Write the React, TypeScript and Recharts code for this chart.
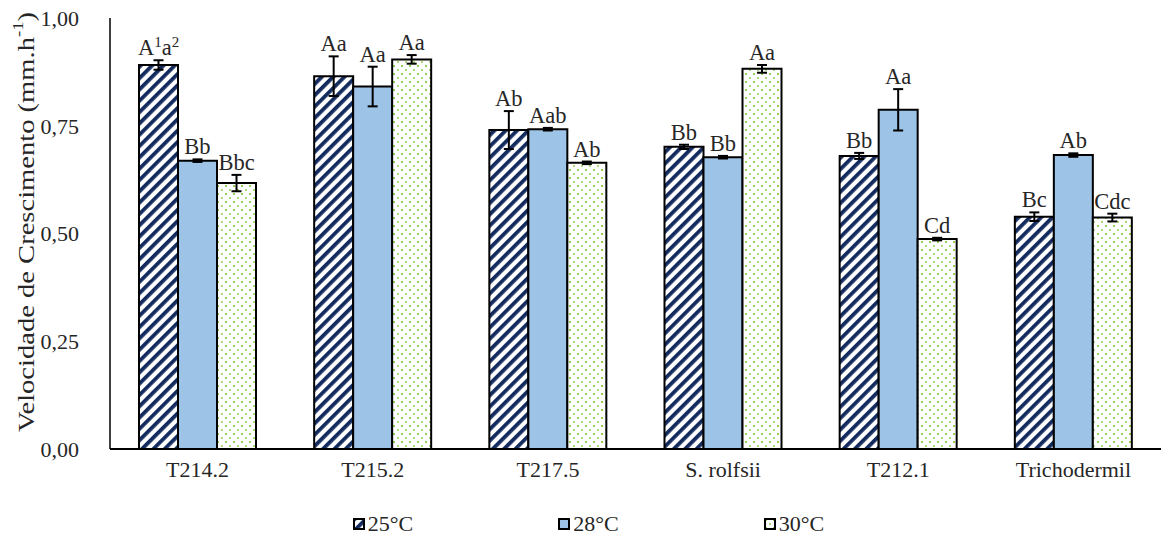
import React from 'react';
import { BarChart, Bar, XAxis, YAxis, ErrorBar, LabelList, Legend } from 'recharts';

const isolados = ['T214.2', 'T215.2', 'T217.5', 'S. rolfsii', 'T212.1', 'Trichodermil'];

// médias e desvios
const v25 = [0.891, 0.865, 0.74, 0.701, 0.68, 0.539];
const e25 = [0.011, 0.046, 0.044, 0.005, 0.007, 0.01];
const v28 = [0.669, 0.841, 0.742, 0.677, 0.787, 0.682];
const e28 = [0.003, 0.046, 0.003, 0.003, 0.048, 0.004];
const v30 = [0.617, 0.904, 0.664, 0.882, 0.487, 0.537];
const e30 = [0.019, 0.01, 0.003, 0.009, 0.003, 0.009];

// letras do teste de médias ("^" = sobrescrito)
const l25 = ['A^1a^2', 'Aa', 'Ab', 'Bb', 'Bb', 'Bc'];
const l28 = ['Bb', 'Aa', 'Aab', 'Bb', 'Aa', 'Ab'];
const l30 = ['Bbc', 'Aa', 'Ab', 'Aa', 'Cd', 'Cdc'];

const yTicks = [0, 0.25, 0.5, 0.75, 1];

const data = isolados.map((name, i) => ({
  name,
  t25: v25[i], d25: e25[i],
  t28: v28[i], d28: e28[i],
  t30: v30[i], d30: e30[i],
}));

const serif = "'Liberation Serif', 'Times New Roman', serif";
const txt = '#262626';

function renderLetters(text: string) {
  const parts = text.split(/(\^\d)/).filter(Boolean);
  let up = false;
  return parts.map((p, k) => {
    if (p.startsWith('^')) {
      up = true;
      return <tspan key={k} dy={-8} fontSize={15}>{p.slice(1)}</tspan>;
    }
    const dy = up ? 8 : 0;
    up = false;
    return <tspan key={k} dy={dy}>{p}</tspan>;
  });
}

const makeLabel = (errs: number[], vals: number[], letters: string[]) => (props: any) => {
  const { x, y, width, height, index } = props;
  const px = (height / vals[index]) * errs[index];
  return (
    <text
      x={x + width / 2}
      y={y - px - 5}
      textAnchor="middle"
      fontFamily={serif}
      fontSize={22.5}
      fill={txt}
    >
      {renderLetters(letters[index])}
    </text>
  );
};

const legendItems = [
  { label: '25°C', fill: 'url(#hatch25)' },
  { label: '28°C', fill: '#9DC3E6' },
  { label: '30°C', fill: 'url(#dots30)' },
];

function LegendBox() {
  return (
    <div style={{ display: 'flex', justifyContent: 'center', gap: 145, paddingLeft: 16, height: 30, alignItems: 'center' }}>
      {legendItems.map((it) => (
        <div key={it.label} style={{ display: 'flex', alignItems: 'center', fontFamily: serif, fontSize: 22, color: txt }}>
          <svg width={12} height={12} style={{ marginRight: 3 }}>
            <rect x={1} y={1} width={10} height={10} fill={it.fill} stroke="#000" strokeWidth={2} />
          </svg>
          {it.label}
        </div>
      ))}
    </div>
  );
}

function YTitle() {
  return (
    <text
      transform="translate(26, 222) rotate(-90)"
      textAnchor="middle"
      dominantBaseline="central"
      fontFamily={serif}
      fontSize={23}
      fill={txt}
      textLength={420}
      lengthAdjust="spacingAndGlyphs"
    >
      Velocidade de Crescimento (mm.h
      <tspan dy={-8} fontSize={15}>-1</tspan>
      <tspan dy={8}>)</tspan>
    </text>
  );
}

export default function App() {
  return (
    <div style={{ position: 'absolute', left: 0, top: 0, background: '#fff' }}>
      <BarChart
        width={1161}
        height={540}
        data={data}
        margin={{ top: 18, right: 0, left: 0, bottom: 31 }}
        barSize={39}
        barGap={0}
      >
        <defs>
          <pattern id="hatch25" patternUnits="userSpaceOnUse" width={8} height={8} patternTransform="rotate(45)">
            <rect width={8} height={8} fill="#fff" />
            <rect width={3.8} height={8} fill="#132a5e" />
          </pattern>
          <pattern id="dots30" patternUnits="userSpaceOnUse" width={8} height={8}>
            <rect width={8} height={8} fill="#fff" />
            <rect x={1} y={1} width={2} height={2} fill="#92D050" />
            <rect x={5} y={5} width={2} height={2} fill="#a9dc78" />
          </pattern>
        </defs>
        <XAxis
          dataKey="name"
          height={30}
          axisLine={{ stroke: '#000', strokeWidth: 2 }}
          tickLine={false}
          tickSize={0}
          tickMargin={12}
          tick={{ fontFamily: serif, fontSize: 22, fill: txt }}
        />
        <YAxis
          width={110}
          domain={[0, 1]}
          ticks={yTicks}
          interval={0}
          axisLine={{ stroke: '#000', strokeWidth: 1.5 }}
          tickLine={false}
          tickSize={0}
          tickMargin={31}
          tickFormatter={(v: number) => v.toFixed(2).replace('.', ',')}
          tick={{ fontFamily: serif, fontSize: 22, fill: txt }}
        />
        <Legend
          verticalAlign="bottom"
          content={() => <LegendBox />}
          wrapperStyle={{ bottom: 1, left: 0, width: 1161 }}
        />
        <Bar dataKey="t25" name="25°C" fill="url(#hatch25)" stroke="#000" strokeWidth={2} isAnimationActive={false}>
          <ErrorBar dataKey="d25" width={5} stroke="#000" strokeWidth={2} />
          <LabelList dataKey="t25" content={makeLabel(e25, v25, l25)} />
        </Bar>
        <Bar dataKey="t28" name="28°C" fill="#9DC3E6" stroke="#000" strokeWidth={2} isAnimationActive={false}>
          <ErrorBar dataKey="d28" width={5} stroke="#000" strokeWidth={2} />
          <LabelList dataKey="t28" content={makeLabel(e28, v28, l28)} />
        </Bar>
        <Bar dataKey="t30" name="30°C" fill="url(#dots30)" stroke="#000" strokeWidth={2} isAnimationActive={false}>
          <ErrorBar dataKey="d30" width={5} stroke="#000" strokeWidth={2} />
          <LabelList dataKey="t30" content={makeLabel(e30, v30, l30)} />
        </Bar>
        <YTitle />
      </BarChart>
    </div>
  );
}
